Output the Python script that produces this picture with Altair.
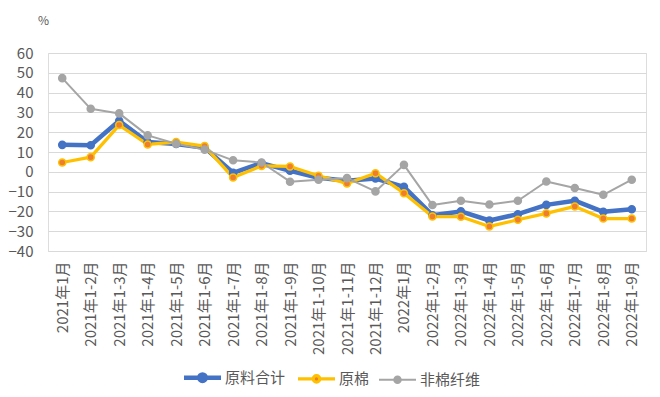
import altair as alt
import pandas as pd

categories = [
    "2021年1月", "2021年1-2月", "2021年1-3月", "2021年1-4月", "2021年1-5月",
    "2021年1-6月", "2021年1-7月", "2021年1-8月", "2021年1-9月", "2021年1-10月",
    "2021年1-11月", "2021年1-12月", "2022年1月", "2022年1-2月", "2022年1-3月",
    "2022年1-4月", "2022年1-5月", "2022年1-6月", "2022年1-7月", "2022年1-8月",
    "2022年1-9月",
]
series_names = ["原料合计", "原棉", "非棉纤维"]
total = [13.6, 13.4, 25.8, 15.0, 14.0, 12.2, -0.5, 4.4, 0.5, -3.0, -4.5, -3.4,
         -7.6, -21.9, -20.0, -24.6, -21.4, -16.7, -14.6, -20.2, -18.9]
cotton = [4.7, 7.4, 23.6, 13.8, 15.0, 13.0, -2.9, 3.0, 2.7, -2.0, -5.9, -0.7,
          -10.8, -22.6, -22.7, -27.6, -24.2, -21.0, -17.5, -23.6, -23.6]
noncotton = [47.3, 31.8, 29.5, 18.4, 14.2, 11.2, 5.8, 4.7, -5.0, -4.0, -3.2, -9.9,
             3.5, -16.8, -14.6, -16.5, -14.6, -4.9, -8.2, -11.6, -4.0]
y_ticks = [60, 50, 40, 30, 20, 10, 0, -10, -20, -30, -40]

rows = []
for name, vals in zip(series_names, [total, cotton, noncotton]):
    for i, (c, v) in enumerate(zip(categories, vals)):
        rows.append({"cat": c, "series": name, "width_key": name, "value": v, "order": i})
df = pd.DataFrame(rows)

FONT = "Noto Sans CJK SC"
TXT = "#595959"

x_enc = alt.X("cat:N", sort=categories, scale=alt.Scale(type="point", padding=0.5),
              axis=alt.Axis(title=None, labelAngle=270, labelFontSize=15, labelColor=TXT,
                            labelFont=FONT, ticks=False, tickSize=0, labelPadding=10,
                            domainColor="#D9D9D9", domainWidth=1, grid=False))
y_enc = alt.Y("value:Q", scale=alt.Scale(domain=[-40, 60], nice=False, zero=False),
              axis=alt.Axis(title="%", titleAngle=0, titleX=-5, titleY=-33,
                            titleAlign="center", titleBaseline="middle",
                            titleFontSize=12, titleFontWeight="normal", titleColor=TXT,
                            titleFont=FONT, values=y_ticks, labelFontSize=15,
                            labelColor=TXT, labelFont=FONT, ticks=False, tickSize=0,
                            labelPadding=15, domain=False, gridColor="#D9D9D9",
                            gridWidth=1))

legend_path = ("M-3.7,0L-0.65,0M0.65,0L3.7,0"
               "M0.65,0A0.65,0.65 0 1,1 -0.65,0A0.65,0.65 0 1,1 0.65,0Z")
leg = alt.Legend(title=None, orient="none", legendX=147, legendY=317,
                 direction="horizontal", columns=3, symbolType=legend_path,
                 symbolSize=100,
                 symbolStrokeWidth=alt.ExprRef("datum.value === '原料合计' ? 3 : 1.6"),
                 labelOffset=15, labelFontSize=15, labelColor=TXT, labelFont=FONT,
                 columnPadding=5)

stroke_scale = alt.Scale(domain=series_names, range=["#4472C4", "#FFC000", "#A5A5A5"])
fill_scale = alt.Scale(domain=series_names, range=["#4472C4", "#ED7D31", "#A5A5A5"])

lines = alt.Chart(df).mark_line(strokeJoin="round").encode(
    x=x_enc, y=y_enc,
    stroke=alt.Stroke("series:N", scale=stroke_scale, sort=series_names, legend=leg),
    strokeWidth=alt.StrokeWidth("width_key:N", scale=alt.Scale(domain=series_names, range=[4.5, 2, 1.8]), legend=None),
    order="order:Q",
)
points = alt.Chart(df).mark_point(filled=True, size=50, strokeWidth=1.5, opacity=1).encode(
    x=x_enc, y=y_enc,
    fill=alt.Fill("series:N", scale=fill_scale, sort=series_names, legend=leg),
    stroke=alt.Stroke("series:N", scale=stroke_scale, sort=series_names, legend=leg),
)

chart = alt.layer(lines, points).properties(
    width=598, height=198,
    autosize=alt.AutoSizeParams(type="none"),
    padding={"left": 40, "top": 45, "right": 6, "bottom": 136},
).configure_view(strokeWidth=0).configure(background="white")

chart.save("out.html", embed_options={"renderer": "svg", "actions": False})
